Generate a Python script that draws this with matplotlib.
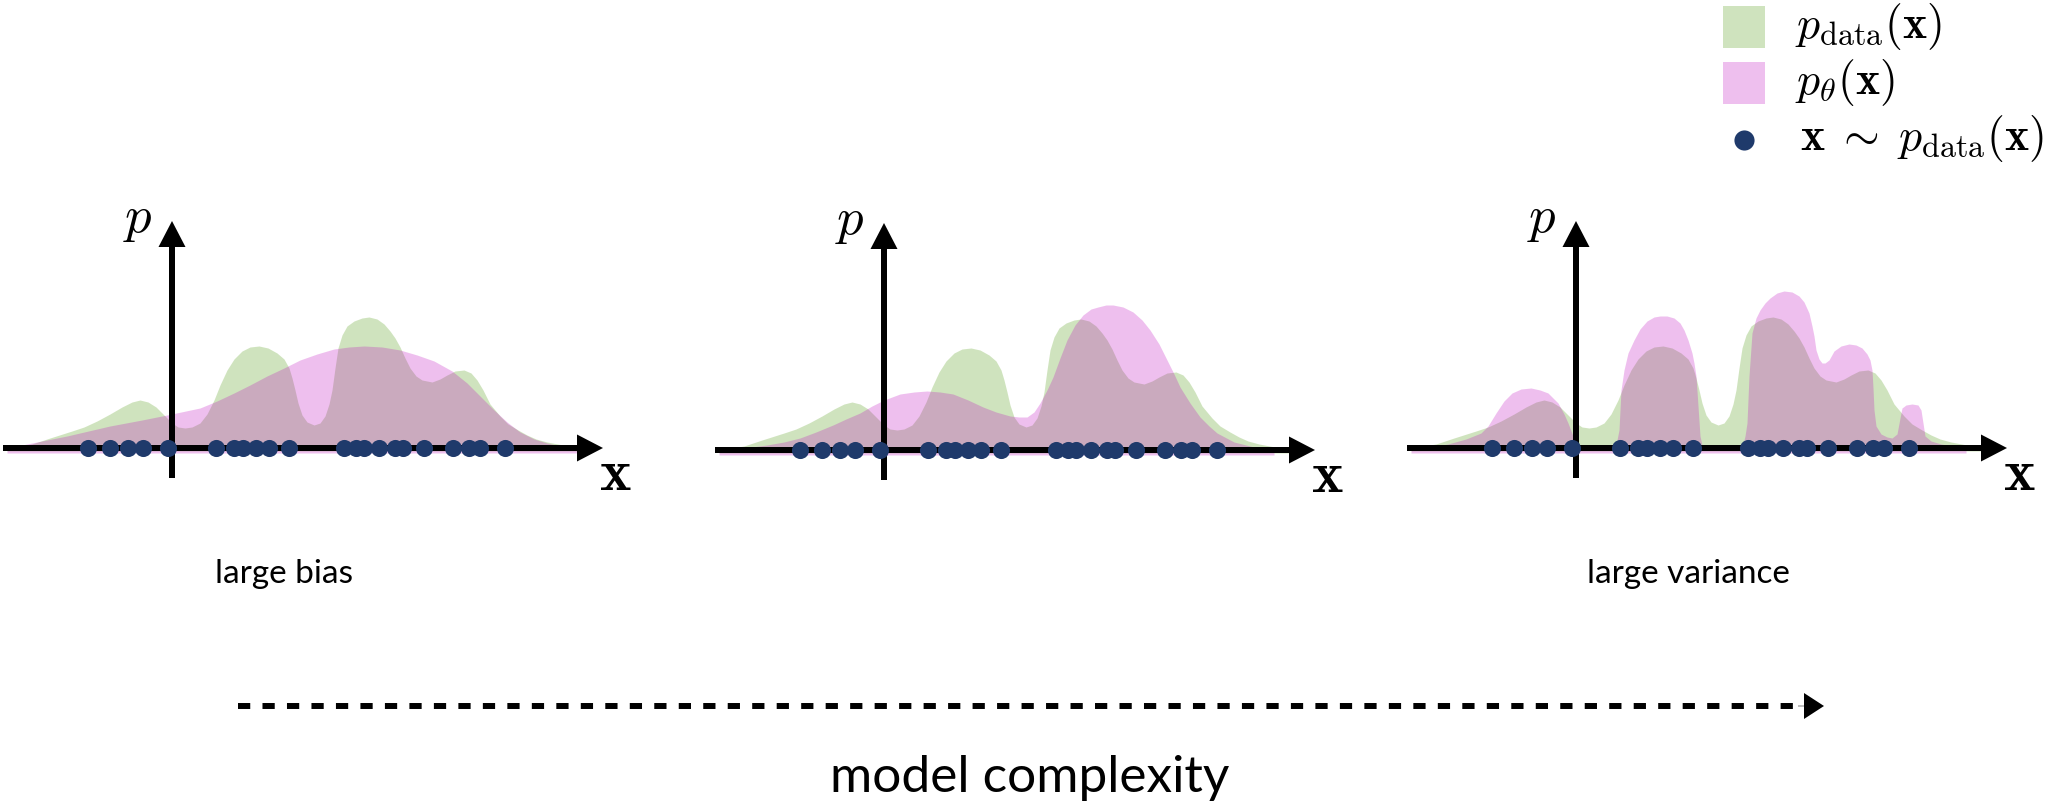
import matplotlib
matplotlib.use('Agg')
import matplotlib.pyplot as plt
from matplotlib.patches import Rectangle

plt.rcParams['mathtext.fontset'] = 'cm'

# ---- data (x = offset from the p axis, h = height above the x axis) ----
# p_data(x) is the same curve in all three panels
data_x = [-165, -140, -122, -100, -88, -75, -62, -50, -40, -32, -24, -16, -8, 0, 6, 13, 20, 28, 35, 42,
          48, 55, 62, 70, 78, 87, 96, 105, 112, 117, 120, 123, 126, 130, 135, 142, 148, 153, 157, 160,
          163, 166, 170, 175, 182, 190, 197, 205, 212, 218, 223, 228, 233, 238, 244, 250, 260, 268, 275,
          283, 292, 299, 305, 311, 318, 328, 336, 346, 355, 364, 375, 391, 410]
data_h = [0, 4, 10, 17, 21, 27, 34, 41, 46, 48, 46, 41, 33, 25, 21, 20, 21, 25, 34, 48,
          63, 78, 89, 97, 101, 102, 100, 95, 89, 80, 70, 58, 45, 33, 26, 23, 25, 32, 44, 58,
          80, 100, 113, 122, 127, 130, 131, 129, 124, 117, 110, 101, 90, 80, 72, 68, 66, 69, 73,
          77, 78, 75, 68, 58, 44, 32, 24, 18, 13, 9, 6, 3, 0]

# p_theta(x): large bias
bias_x = [-165, -140, -105, -62, -30, -5, 28, 45, 62, 78, 95, 112, 128, 145, 162, 177, 192, 210, 228,
          245, 262, 280, 295, 308, 322, 335, 348, 362, 375, 388, 405]
bias_h = [0, 5, 12, 22, 28, 33, 40, 47, 55, 63, 72, 80, 88, 94, 99, 101, 102, 101, 98,
          93, 87, 77, 65, 52, 38, 26, 16, 9, 5, 2, 0]

# p_theta(x): in between
mid_x = [-165, -140, -117, -100, -84, -68, -51, -38, -24, -12, 0, 16, 30, 43, 56, 69, 84, 99, 112, 126,
         135, 143, 150, 156, 163, 169, 176, 183, 191, 199, 207, 214, 222, 229, 239, 249, 258, 266, 275,
         283, 290, 296, 306, 316, 325, 333, 350, 370, 390]
mid_h = [0, 2, 5, 8, 12, 18, 25, 31, 37, 44, 50, 56, 58, 59, 58, 56, 50, 43, 38, 34,
         33, 33, 38, 47, 60, 73, 92, 110, 125, 135, 141, 143, 145, 145, 143, 138, 130, 120, 106,
         90, 76, 63, 47, 33, 24, 17, 8, 3, 0]

# p_theta(x): large variance
var_x = [-165, -145, -128, -110, -95, -88, -80, -72, -64, -55, -45, -36, -28, -18, -12, -8, -3, 2, 10,
         25, 38, 41, 43, 45, 48, 52, 58, 64, 71, 78, 84, 91, 98, 104, 108, 112, 116, 118, 120, 122,
         124, 126, 140, 160, 167, 169, 171, 173, 176, 180, 184, 189, 194, 201, 208, 216, 223, 228,
         233, 236, 238, 240, 243, 246, 249, 253, 258, 265, 273, 280, 286, 291, 294, 296, 297, 298,
         300, 305, 311, 316, 321, 324, 326, 330, 336, 342, 345, 347, 349, 355, 365, 377, 390]
var_h = [0, 1, 4, 9, 15, 22, 35, 47, 55, 59, 60, 58, 55, 45, 34, 25, 12, 3, 2,
         2, 3, 8, 18, 58, 78, 95, 108, 119, 127, 131, 132, 132, 130, 125, 118, 108, 95, 85, 72, 42,
         12, 3, 1, 1, 4, 12, 25, 72, 115, 130, 138, 145, 150, 155, 157, 156, 152, 146,
         135, 122, 112, 98, 89, 85, 85, 88, 97, 102, 104, 103, 100, 94, 88, 78, 60, 38,
         22, 14, 11, 10, 14, 30, 40, 43, 44, 43, 38, 25, 12, 7, 4, 2, 0]

# samples x ~ p_data(x), same in every panel
sample_x = [-84, -62, -44, -29, -4, 44, 62, 71, 84, 97, 117, 172, 184, 192, 207, 223, 231, 252,
            281, 297, 308, 333]

panels = [(bias_x, bias_h), (mid_x, mid_h), (var_x, var_h)]
panel_notes = ['large bias', '', 'large variance']

# ---- layout (pixels of the 2045x801 picture) ----
W, H = 2045, 801
ORIGINS = [(172, 448), (884, 450), (1576, 448)]   # where the two axes cross
XL, XR, YB, YT = -175, 455, -40, 245               # extent of each panel axes around its origin

GREEN = (0.384, 0.647, 0.165)
GREEN_A = 0.30
PINK = (0.75, 0.0, 0.75)
PINK_A = 0.25
DOT = '#1f3a6b'
SANS = dict(family=['Lato', 'DejaVu Sans'], fontweight='normal')

fig = plt.figure(figsize=(W / 100, H / 100), dpi=100)
ov = fig.add_axes([0, 0, 1, 1])
ov.set_xlim(0, W)
ov.set_ylim(H, 0)
ov.axis('off')

for (ox, oy), (px, ph), note in zip(ORIGINS, panels, panel_notes):
    ax = fig.add_axes([(ox + XL) / W, (H - oy - (-YB)) / H, (XR - XL) / W, (YT - YB) / H])
    ax.set_xlim(XL, XR)
    ax.set_ylim(YB, YT)
    ax.axis('off')
    ax.patch.set_alpha(0)
    ax.fill_between(data_x, data_h, -3, color=GREEN, alpha=GREEN_A, lw=0, zorder=1)
    ax.fill_between(px, ph, -5, color=PINK, alpha=PINK_A, lw=0, zorder=2)
    ax.arrow(-169, 0, 600, 0, width=6, head_width=27, head_length=26,
             length_includes_head=True, color='k', lw=0, zorder=3)
    ax.arrow(0, -30, 0, 257, width=6, head_width=27, head_length=26,
             length_includes_head=True, color='k', lw=0, zorder=3)
    ax.plot(sample_x, [0] * len(sample_x), 'o', color=DOT, ms=12.3, mew=0, zorder=4)
    ax.text(-34, 230, r'$p$', fontsize=38, ha='center', va='center', clip_on=False)
    ax.text(443, -25, r'$\mathbf{x}$', fontsize=43, ha='center', va='center', clip_on=False)
    if note:
        ov.text(ox + 112, 574, note, fontsize=24, ha='center', va='center', **SANS)

# legend
ov.add_patch(Rectangle((1723, 6), 42, 42, color=GREEN, alpha=GREEN_A, lw=0))
ov.add_patch(Rectangle((1723, 62), 42, 42, color=PINK, alpha=PINK_A, lw=0))
ov.plot([1744], [140], 'o', color=DOT, ms=14.5, mew=0)
ov.text(1795, 27, r'$p_{\mathrm{data}}(\mathbf{x})$', fontsize=33, ha='left', va='center')
ov.text(1795, 83, r'$p_{\theta}(\mathbf{x})$', fontsize=33, ha='left', va='center')
ov.text(1800, 139, r'$\mathbf{x}\;\sim\;p_{\mathrm{data}}(\mathbf{x})$', fontsize=33,
        ha='left', va='center')

# model complexity arrow
ov.plot([238, 1802], [706, 706], color='k', lw=4.3, dashes=(2.05, 2.05), dash_capstyle='butt')
ov.arrow(1798, 706, 26, 0, width=0.5, head_width=26, head_length=20,
         length_includes_head=True, color='k', lw=0)
ov.text(1030, 778, 'model complexity', fontsize=37, ha='center', va='center', **SANS)

fig.savefig('out.png', dpi=100)
